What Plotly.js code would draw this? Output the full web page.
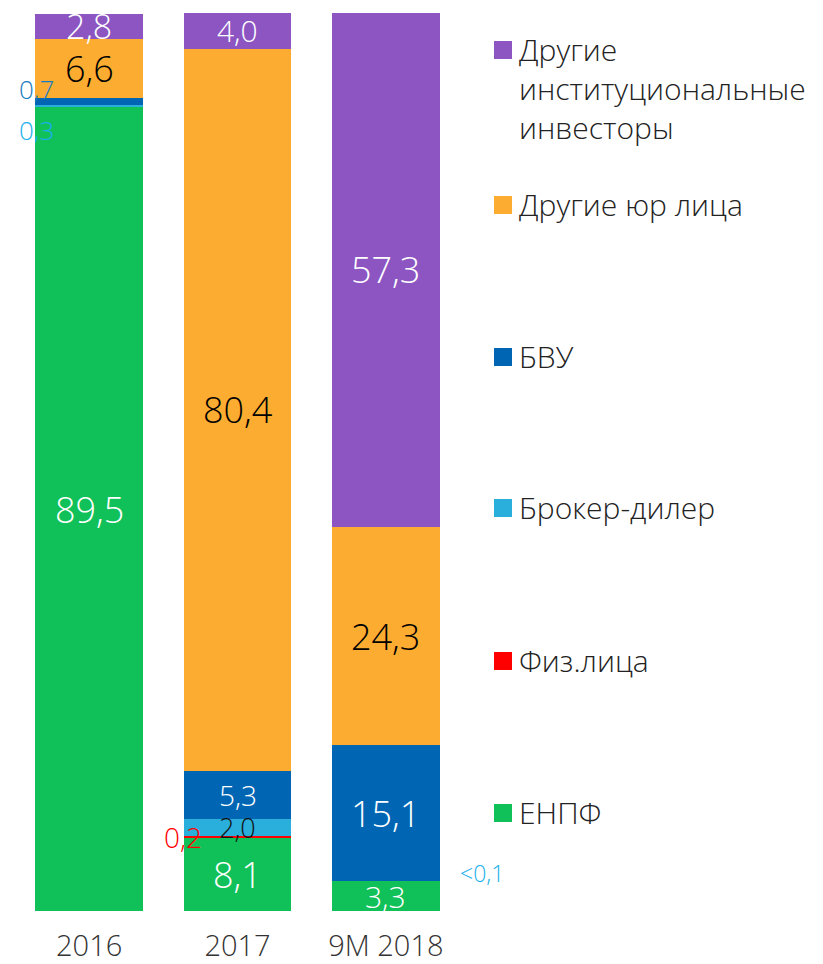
<!DOCTYPE html>
<html><head><meta charset="utf-8">
<script src="https://cdn.plot.ly/plotly-3.0.1.min.js"></script>
<style>html,body{margin:0;padding:0;background:#fff}</style>
</head><body><div id="chart" style="width:823px;height:964px"></div>
<script>
const categories = ['2016', '2017', '9M 2018'];
const seriesNames = ['ЕНПФ', 'Физ.лица', 'Брокер-дилер', 'БВУ', 'Другие юр лица', 'Другие институциональные инвесторы'];
const legendLabels = ['ЕНПФ', 'Физ.лица', 'Брокер-дилер', 'БВУ', 'Другие юр лица', 'Другие<br>институциональные<br>инвесторы'];
const enpf       = [89.5, 8.1, 3.3];
const fizLica    = [0.0, 0.2, 0.0];
const broker     = [0.3, 2.0, 0.05];
const bvu        = [0.7, 5.3, 15.1];
const otherLegal = [6.6, 80.4, 24.3];
const otherInst  = [2.8, 4.0, 57.3];
const labelsEnpf   = ['89,5', '8,1', '3,3'];
const labelsFiz    = ['', '0,2', ''];
const labelsBroker = ['0,3', '2,0', '<0,1'];
const labelsBvu    = ['0,7', '5,3', '15,1'];
const labelsLegal  = ['6,6', '80,4', '24,3'];
const labelsInst   = ['2,8', '4,0', '57,3'];

const series = [enpf, fizLica, broker, bvu, otherLegal, otherInst];
const labels = [labelsEnpf, labelsFiz, labelsBroker, labelsBvu, labelsLegal, labelsInst];
const colors = ['#10c058', '#ff0000', '#2aaedc', '#0066b3', '#fcac30', '#8c55c2'];
const FONT = 'Open Sans, Noto Sans, sans-serif';

// label styles: [color, size, xshift, yshift] per series per category
const labelStyle = [
  [['#fff',36,0,0], ['#fff',36,0,0], ['#fff',30,0,0]],
  [null, ['#ff0000',28,-55,0], null],
  [['#1ab0ec',26,-53,-24], ['#111',27,0,0], ['#1ab0ec',23,96,8]],
  [['#1a7cc0',26,-53,12], ['#fff',28,0,0], ['#fff',36,0,0]],
  [['#000',36,0,0], ['#000',36,0,0], ['#000',36,0,0]],
  [['#fff',34,0,0], ['#fff',30,0,0], ['#fff',36,0,0]]
];

const traces = series.map((vals, i) => ({
  type: 'bar', x: categories, y: vals, name: seriesNames[i],
  marker: {color: colors[i], line: {width: 0}},
  hoverinfo: 'x+y+name', showlegend: false
}));

const annotations = [];
categories.forEach((c, j) => {
  let cum = 0;
  series.forEach((vals, i) => {
    const v = vals[j];
    const mid = cum + v / 2;
    cum += v;
    const st = labelStyle[i][j];
    if (st && labels[i][j]) {
      annotations.push({
        x: j, y: mid, xref: 'x', yref: 'y', text: labels[i][j], showarrow: false,
        xshift: st[2], yshift: st[3],
        font: {family: FONT, size: st[1], color: st[0], weight: 300}
      });
    }
  });
});

// legend (manual)
const W = 823, H = 964, ml = 15, mr = 363, mt = 13, mb = 53;
const pw = W - ml - mr, ph = H - mt - mb;
const px2x = p => (p - ml) / pw;
const py2y = p => (H - mb - p) / ph;
const legendY = [813, 661, 508, 357, 205, 50];
const shapes = [];
series.forEach((_, i) => {
  const cy = legendY[i];
  shapes.push({type: 'rect', xref: 'paper', yref: 'paper',
    x0: px2x(494), x1: px2x(512), y0: py2y(cy + 9), y1: py2y(cy - 9),
    fillcolor: colors[i], line: {width: 0}});
  annotations.push({xref: 'paper', yref: 'paper', x: px2x(517), y: py2y(cy - 23),
    xanchor: 'left', yanchor: 'top', align: 'left', text: legendLabels[i], showarrow: false,
    font: {family: FONT, size: 30, color: '#222', weight: 300}});
});

const layout = {
  width: W, height: H, margin: {l: ml, r: mr, t: mt, b: mb},
  barmode: 'stack', bargap: 0.273,
  paper_bgcolor: '#fff', plot_bgcolor: '#fff',
  xaxis: {type: 'category', range: [-0.5, 2.5], showgrid: false, zeroline: false, showline: false,
    ticks: 'outside', ticklen: 9, tickcolor: 'rgba(0,0,0,0)',
    tickfont: {family: FONT, size: 29, color: '#333', weight: 300}},
  yaxis: {range: [0, 100], visible: false, showgrid: false, zeroline: false},
  annotations: annotations, shapes: shapes
};
Plotly.newPlot('chart', traces, layout, {displayModeBar: false, staticPlot: true});
</script></body></html>
